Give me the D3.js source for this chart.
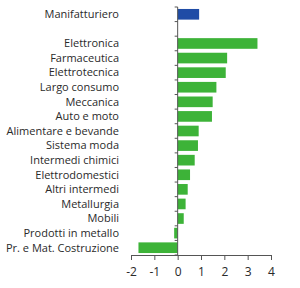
<!DOCTYPE html>
<html>
<head>
<meta charset="utf-8">
<script src="https://cdn.jsdelivr.net/npm/d3@7"></script>
<style>
body { margin: 0; background: #fff; }
text { font-family: "Open Sans", sans-serif; fill: #2a2a2a; }
</style>
</head>
<body>
<div id="chart"></div>
<script>
// sectors, top to bottom ("" is the empty gap row)
var categories = ["Manifatturiero", "", "Elettronica", "Farmaceutica", "Elettrotecnica",
    "Largo consumo", "Meccanica", "Auto e moto", "Alimentare e bevande", "Sistema moda",
    "Intermedi chimici", "Elettrodomestici", "Altri intermedi", "Metallurgia", "Mobili",
    "Prodotti in metallo", "Pr. e Mat. Costruzione"];
var values = [0.92, null, 3.42, 2.12, 2.06, 1.66, 1.5, 1.47, 0.9, 0.87, 0.73, 0.53, 0.43, 0.34, 0.26, -0.15, -1.68];
var xTicks = [-2, -1, 0, 1, 2, 3, 4];

var w = 300, h = 288;

var svg = d3.select("#chart")
    .append("svg")
    .attr("width", w)
    .attr("height", h);

var x = d3.scaleLinear().domain([-2, 4]).range([131, 271]);
var y = d3.scaleBand().domain(d3.range(categories.length)).range([7, 255]).paddingInner(0.27).paddingOuter(0.135);

svg.selectAll("rect")
    .data(values.map(function(v, i) { return {v: v, i: i}; }).filter(function(d) { return d.v !== null; }))
    .enter()
    .append("rect")
    .attr("x", function(d) { return x(Math.min(0, d.v)); })
    .attr("y", function(d) { return y(d.i); })
    .attr("width", function(d) { return Math.abs(x(d.v) - x(0)); })
    .attr("height", y.bandwidth())
    .attr("fill", function(d) { return d.i === 0 ? "#1f4ca6" : "#3db338"; });

// category labels
svg.selectAll("text.cat")
    .data(categories)
    .enter()
    .append("text")
    .attr("class", "cat")
    .attr("x", 119)
    .attr("y", function(d, i) { return y(i) + y.bandwidth() / 2; })
    .attr("dy", "0.35em")
    .attr("text-anchor", "end")
    .attr("font-size", "11px")
    .text(function(d) { return d; });

// vertical axis at zero with ticks at band boundaries
var bounds = d3.range(categories.length + 1).map(function(i) { return 7 + i * (248 / categories.length); });
svg.append("line")
    .attr("x1", x(0)).attr("x2", x(0))
    .attr("y1", 7).attr("y2", 255)
    .attr("stroke", "#555");
svg.selectAll("line.yt")
    .data(bounds)
    .enter()
    .append("line")
    .attr("class", "yt")
    .attr("x1", x(0) - 3).attr("x2", x(0))
    .attr("y1", function(d) { return d; }).attr("y2", function(d) { return d; })
    .attr("stroke", "#555");

// horizontal axis
var xAxis = svg.append("g")
    .attr("transform", "translate(0,255)")
    .call(d3.axisBottom(x).tickValues(xTicks).tickSize(5).tickSizeOuter(0)
        .tickFormat(function(d) { return String(d); }));
xAxis.select(".domain").attr("stroke", "#555");
xAxis.selectAll(".tick line").attr("stroke", "#555");
xAxis.selectAll("text")
    .attr("font-family", "Open Sans, sans-serif")
    .attr("font-size", "12px")
    .attr("fill", "#2a2a2a")
    .attr("dy", "1.05em");
</script>
</body>
</html>
